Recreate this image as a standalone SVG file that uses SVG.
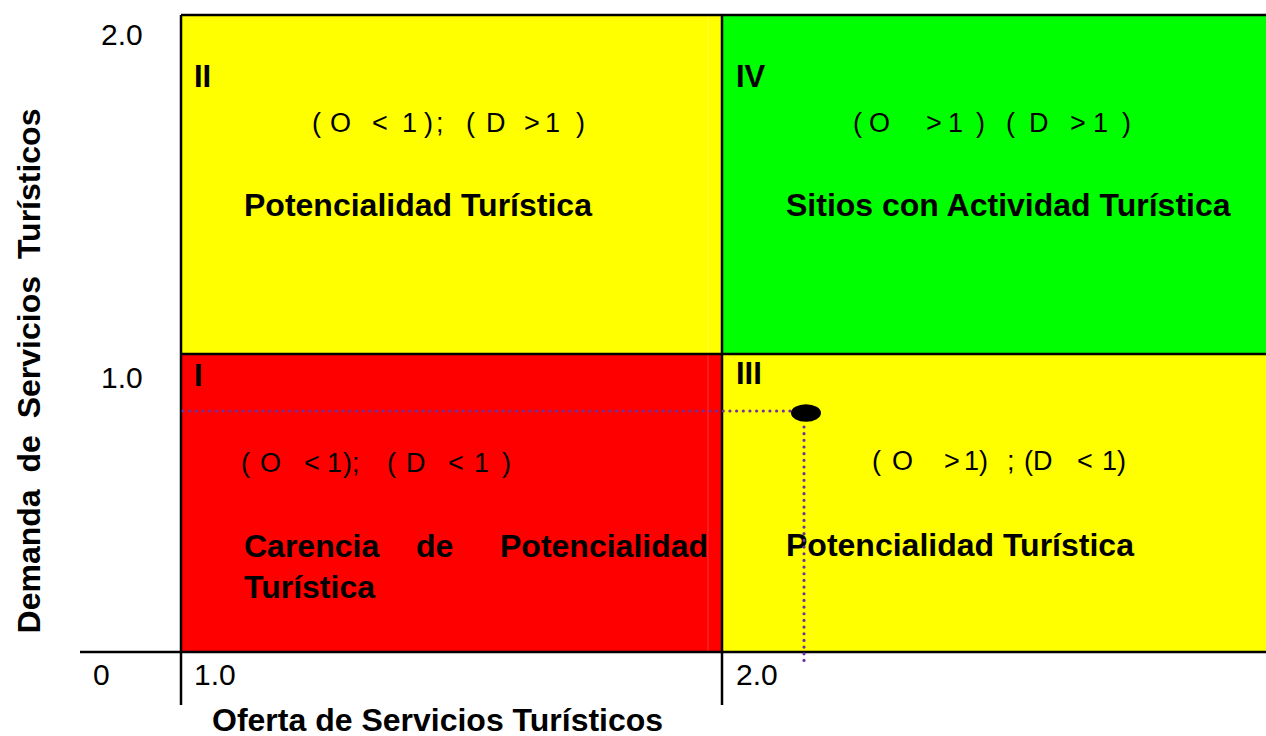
<svg xmlns="http://www.w3.org/2000/svg" width="1266" height="736" viewBox="0 0 1266 736">
<style>
.reg{font-family:"Liberation Sans",Arial,sans-serif;font-size:27px;fill:#000}
.num{font-family:"Liberation Sans",Arial,sans-serif;font-size:30px;fill:#000}
.bold{font-family:"Liberation Sans",Arial,sans-serif;font-size:32px;font-weight:bold;fill:#000}
.rom{font-family:"Liberation Sans",Arial,sans-serif;font-size:31px;font-weight:bold;fill:#000}
.ax{stroke:#000;stroke-width:2.5;fill:none}
.dot{stroke:#7030A0;stroke-width:3.2;stroke-linecap:round;stroke-dasharray:0 6.67;fill:none}
</style>
<rect width="1266" height="736" fill="#fff"/>
<g id="quadrant-II">
<rect x="181" y="15" width="541" height="339" fill="#FFFF00"/>
<text class="rom" x="194" y="87">II</text>
<text class="reg" y="132" x="312 322 330 352 372 390 402 419 424 436 445 466 477 486 505 524 541 545 561 576">( O &lt; 1 ); ( D &gt; 1 )</text>
<text class="bold" x="244" y="216">Potencialidad Turística</text>
</g>
<g id="quadrant-IV">
<rect x="722" y="15" width="544" height="339" fill="#00FF00"/>
<text class="rom" x="736" y="87">IV</text>
<text class="reg" y="132" x="853 863 869 890 926 943 948 964 976 987 1006 1016 1029 1048 1070 1087 1093 1109 1122">( O &gt; 1 ) ( D &gt; 1 )</text>
<text class="bold" x="786" y="216">Sitios con Actividad Turística</text>
</g>
<g id="quadrant-I">
<rect x="181" y="354" width="541" height="298" fill="#FF0000"/>
<line x1="708" y1="15" x2="708" y2="652" stroke="#fff" stroke-opacity="0.2" stroke-width="1"/>
<text class="rom" x="194" y="386">I</text>
<text class="reg" y="472" x="241 251 260 282 304 321 327 343 352 360 387 398 406 426 448 465 474 491 502">( O &lt; 1); ( D &lt; 1 )</text>
<text class="bold" y="557"><tspan x="244">Carencia</tspan> <tspan x="416">de</tspan> <tspan x="500">Potencialidad</tspan></text>
<text class="bold" x="244" y="598">Turística</text>
</g>
<g id="quadrant-III">
<rect x="722" y="354" width="544" height="298" fill="#FFFF00"/>
<text class="rom" x="736" y="384">III</text>
<text class="reg" y="470" x="872 883 892 913 944 961 964 979 990 1007 1016 1024 1033 1053 1077 1094 1102 1117">( O &gt; 1) ; (D &lt; 1)</text>
<text class="bold" x="786" y="556">Potencialidad Turística</text>
</g>
<g id="axes">
<line class="ax" x1="181" y1="15" x2="1266" y2="15"/>
<line class="ax" x1="181" y1="15" x2="181" y2="705"/>
<line class="ax" x1="722" y1="15" x2="722" y2="705"/>
<line class="ax" x1="181" y1="354" x2="1266" y2="354"/>
<line class="ax" x1="80" y1="652" x2="1266" y2="652"/>
<text class="num" x="101" y="45">2.0</text>
<text class="num" x="101" y="388">1.0</text>
<text class="num" x="93" y="685">0</text>
<text class="num" x="194" y="685">1.0</text>
<text class="num" x="736" y="685">2.0</text>
<text class="bold" x="212" y="731">Oferta de Servicios Turísticos</text>
<text class="bold" transform="translate(40,371) rotate(-90)" text-anchor="middle" font-size="31" word-spacing="8">Demanda de Servicios Turísticos</text>
</g>
<g id="connectors">
<line class="dot" x1="183" y1="411" x2="790" y2="411"/>
<line class="dot" x1="804" y1="427" x2="804" y2="662"/>
</g>
<g id="point">
<ellipse cx="806" cy="413" rx="15" ry="8.7" fill="#000"/>
</g>
</svg>
